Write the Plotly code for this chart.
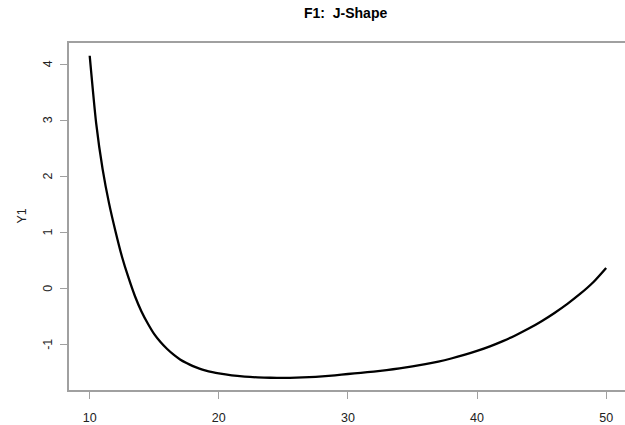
import plotly.graph_objects as go

x_vals = [10, 10.5, 11, 11.5, 12, 12.5, 13, 13.5, 14, 14.5, 15, 15.5, 16, 16.5, 17,
          17.5, 18, 18.5, 19, 19.5, 20, 21, 22, 23, 24, 25, 26, 27, 28, 29, 30, 31,
          32, 33, 34, 35, 36, 37, 38, 39, 40, 41, 42, 43, 44, 45, 46, 47, 48, 49, 50]
y_vals = [4.15, 2.95, 2.13, 1.52, 1.02, 0.57, 0.20, -0.13, -0.40, -0.62, -0.81,
          -0.955, -1.075, -1.175, -1.26, -1.325, -1.38, -1.425, -1.46, -1.487, -1.51,
          -1.545, -1.567, -1.58, -1.587, -1.589, -1.585, -1.577, -1.563, -1.543, -1.52,
          -1.499, -1.476, -1.450, -1.420, -1.386, -1.346, -1.299, -1.244, -1.181, -1.109,
          -1.027, -0.934, -0.829, -0.711, -0.579, -0.432, -0.270, -0.090, 0.115, 0.37]
x_ticks = [10, 20, 30, 40, 50]
y_ticks = [-1, 0, 1, 2, 3, 4]
y_tick_text = ["-1", "0", "1", "2", "3", "4"]
title_text = "F1:\u00a0 J-Shape"
y_title = "Y1"

font_family = "Liberation Sans, Arial, sans-serif"
axis_col = "#a0a0a0"
txt_col = "#222222"

fig = go.Figure()
fig.add_trace(go.Scatter(x=x_vals, y=y_vals, mode="lines",
                         line=dict(color="black", width=2.3, shape="spline", smoothing=0.6),
                         hoverinfo="skip", showlegend=False))

# rotated y tick labels (R style, parallel to the axis)
for v, t in zip(y_ticks, y_tick_text):
    fig.add_annotation(x=0, xref="paper", y=v, yref="y", text=t, showarrow=False,
                       textangle=-90, xanchor="center", yanchor="middle", xshift=-21,
                       font=dict(size=12.5, color=txt_col, family=font_family))

fig.add_annotation(x=0, xref="paper", y=0.5, yref="paper", text=y_title, showarrow=False,
                   textangle=-90, xanchor="center", yanchor="middle", xshift=-48,
                   font=dict(size=12.5, color=txt_col, family=font_family))

fig.update_layout(
    width=625, height=425,
    margin=dict(l=69, r=0, t=43, b=33),
    paper_bgcolor="white", plot_bgcolor="white",
    font=dict(family=font_family, size=12, color=txt_col),
    title=dict(text="<b>" + title_text + "</b>", x=0.553, xanchor="center",
               y=1 - 13 / 425, yanchor="middle",
               font=dict(size=14, color="black", family=font_family)),
    xaxis=dict(range=[8.397, 51.46], tickvals=x_ticks, ticks="outside", ticklen=7,
               tickcolor=axis_col, showline=True, linecolor=axis_col, linewidth=1.5,
               mirror=True, showgrid=False, zeroline=False, ticklabelstandoff=8,
               tickfont=dict(size=12.5, color=txt_col)),
    yaxis=dict(range=[-1.805, 4.377], tickvals=y_ticks, showticklabels=False,
               ticks="outside", ticklen=7,
               tickcolor=axis_col, showline=True, linecolor=axis_col, linewidth=1.5,
               showgrid=False, zeroline=False),
)

fig.write_html("out.html")
